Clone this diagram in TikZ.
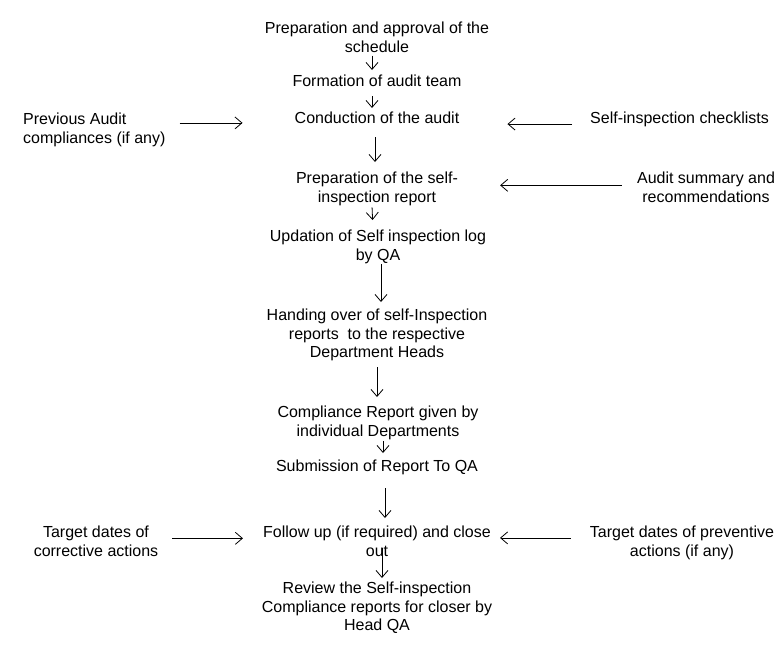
\documentclass[tikz,border=0pt]{standalone}
\usepackage{fontspec}
\setmainfont{Liberation Sans}
\usetikzlibrary{positioning,arrows.meta}
\tikzset{
    stage/.style={align=center,inner sep=0pt,anchor=north,font=\fontsize{16}{18.5}\selectfont},
    input/.style={stage},
    every edge/.style={draw,-{Straight Barb[length=7pt,width=12pt]},line width=0.8pt},
}
\begin{document}
\begin{tikzpicture}[x=1pt,y=-1pt]
    \useasboundingbox (0,0) rectangle (779,646);
    % main flow
    \node[stage] (prep) at (377,22) {Preparation and approval of the\\schedule};
    \node[stage] (team) at (377,75) {Formation of audit team};
    \node[stage] (cond) at (377,112) {Conduction of the audit};
    \node[stage] (rep) at (377,172) {Preparation of the self-\\inspection report};
    \node[stage] (log) at (378,230) {Updation of Self inspection log\\by QA};
    \node[stage] (hand) at (377,309) {Handing over of self-Inspection\\reports\ \ to the respective\\Department Heads};
    \node[stage] (comp) at (378,406) {Compliance Report given by\\individual Departments};
    \node[stage] (sub) at (377,460) {Submission of Report To QA};
    \node[stage] (fup) at (377,526) {Follow up (if required) and close\\out};
    \node[stage] (rev) at (377,582) {Review the Self-inspection\\Compliance reports for closer by\\Head QA};
    % side inputs
    \node[input,align=left,anchor=north west] (prev) at (23,113) {Previous Audit\\compliances (if any)};
    \node[input,anchor=north west] (chk) at (590,112) {Self-inspection checklists};
    \node[input] (summ) at (706,172) {Audit summary and\\recommendations};
    \node[input] (corr) at (96,526) {Target dates of\\corrective actions};
    \node[input] (prevt) at (682,526) {Target dates of preventive\\actions (if any)};

    \path
    ([xshift=-5pt]prep.south) edge[shorten <=3pt,shorten >=5pt] ([xshift=-5pt]team.north)
    ([xshift=-5pt]team.south) edge[shorten <=9pt,shorten >=4pt] ([xshift=-5pt]cond.north)
    ([xshift=-2pt]cond.south) edge[shorten <=13pt,shorten >=10pt] ([xshift=-2pt]rep.north)
    ([xshift=-5pt]rep.south) edge[shorten <=1.5pt,shorten >=10pt] ([xshift=-5pt]log.north)
    ([xshift=3pt]log.south) edge[shorten <=0pt,shorten >=7pt] ([xshift=3pt]log.south |- hand.north)
    (hand.south) edge[shorten <=6pt,shorten >=9pt] (hand.south |- comp.north)
    ([xshift=5pt]comp.south) edge[shorten <=1pt,shorten >=7pt] ([xshift=5pt]comp.south |- sub.north)
    ([xshift=8pt]sub.south) edge[shorten <=13pt,shorten >=8pt] ([xshift=8pt]sub.south |- fup.north)
    ([xshift=5pt]fup.south) edge[shorten <=-9pt,shorten >=4pt] ([xshift=5pt]fup.south |- rev.north)
    ([yshift=7pt]prev.east) edge[shorten <=14pt,shorten >=52pt] ([yshift=7pt]prev.east -| cond.west)
    ([yshift=-4.4pt]chk.west) edge[shorten <=18pt,shorten >=48pt] ([yshift=-4.4pt]chk.west -| cond.east)
    ([yshift=2pt]summ.west) edge[shorten <=15pt,shorten >=42pt] ([yshift=2pt]summ.west -| rep.east)
    ([yshift=3pt]corr.east) edge[shorten <=14pt,shorten >=20pt] ([yshift=3pt]corr.east -| fup.west)
    ([yshift=5pt]prevt.west) edge[shorten <=19pt,shorten >=9pt] ([yshift=5pt]prevt.west -| fup.east);
\end{tikzpicture}
\end{document}
